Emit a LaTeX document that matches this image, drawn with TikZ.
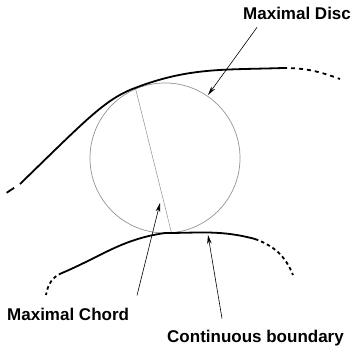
\documentclass[tikz,border=0pt]{standalone}
\usepackage{fontspec}
\setsansfont{Liberation Sans}
\usepackage{tikz}
\usetikzlibrary{arrows.meta, shapes.geometric}

\begin{document}
\begin{tikzpicture}[
  x=1pt, y=1pt,
  >={Stealth[length=9pt, width=4.5pt]},
  boundary/.style={line width=1.8pt, black, line cap=butt},
  broken/.style={boundary, dash pattern=on 4pt off 4pt},
  dotted broken/.style={boundary, dash pattern=on 3.5pt off 3pt},
  disc/.style={circle, draw=gray!85, line width=0.7pt, minimum size=150pt, inner sep=0pt},
  chord/.style={draw=gray!75, line width=0.6pt},
  callout/.style={font=\sffamily\bfseries\fontsize{17}{20}\selectfont, inner sep=0pt},
  pointer/.style={->, line width=0.6pt}
]
\useasboundingbox (0,0) rectangle (355,351);

% Maximal disc and its chord
\node[disc] (maxdisc) at (165,193) {};
\draw[chord] (maxdisc.113.5) -- (maxdisc.-85);

% Upper boundary
\coordinate (ustart) at (20,167);
\coordinate (utouch) at (135,263);
\coordinate (uend) at (283,283);
\draw[boundary] (ustart) .. controls (85,230) and (105,252) .. (utouch)
  to[out=21, in=182] (uend);
\draw[boundary, dash pattern=on 0pt off 7pt on 9pt off 20pt] (ustart) -- (4,156.5);
\draw[broken] (uend) to[out=0, in=160] (340,272);

% Lower boundary
\coordinate (lstart) at (62,78);
\coordinate (ltouch) at (165,118);
\coordinate (lend) at (255,112);
\draw[boundary] (lstart) to[out=23, in=188] (ltouch) to[out=0, in=165] (lend);
\draw[dotted broken] (lstart) to[out=202, in=80] (46,56);
\draw[dotted broken] (lend) to[out=-20, in=112] (293,76);

% Labels
\node[callout, anchor=base west] (disclbl) at (243,331) {Maximal Disc};
\node[callout, anchor=base west] (chordlbl) at (7,31) {Maximal Chord};
\node[callout, anchor=base west] (boundlbl) at (167,9) {Continuous boundary};

% Pointers
\coordinate (disctip) at (208,256);
\coordinate (chordtip) at (160,148);
\coordinate (boundtip) at (208,116);
\draw[pointer] ([xshift=14pt, yshift=-7pt]disclbl.south west) -- (disctip);
\draw[pointer] ([xshift=130pt, yshift=12pt]chordlbl.north west) -- (chordtip);
\draw[pointer] ([xshift=55pt, yshift=11pt]boundlbl.north west) -- (boundtip);

\end{tikzpicture}
\end{document}
